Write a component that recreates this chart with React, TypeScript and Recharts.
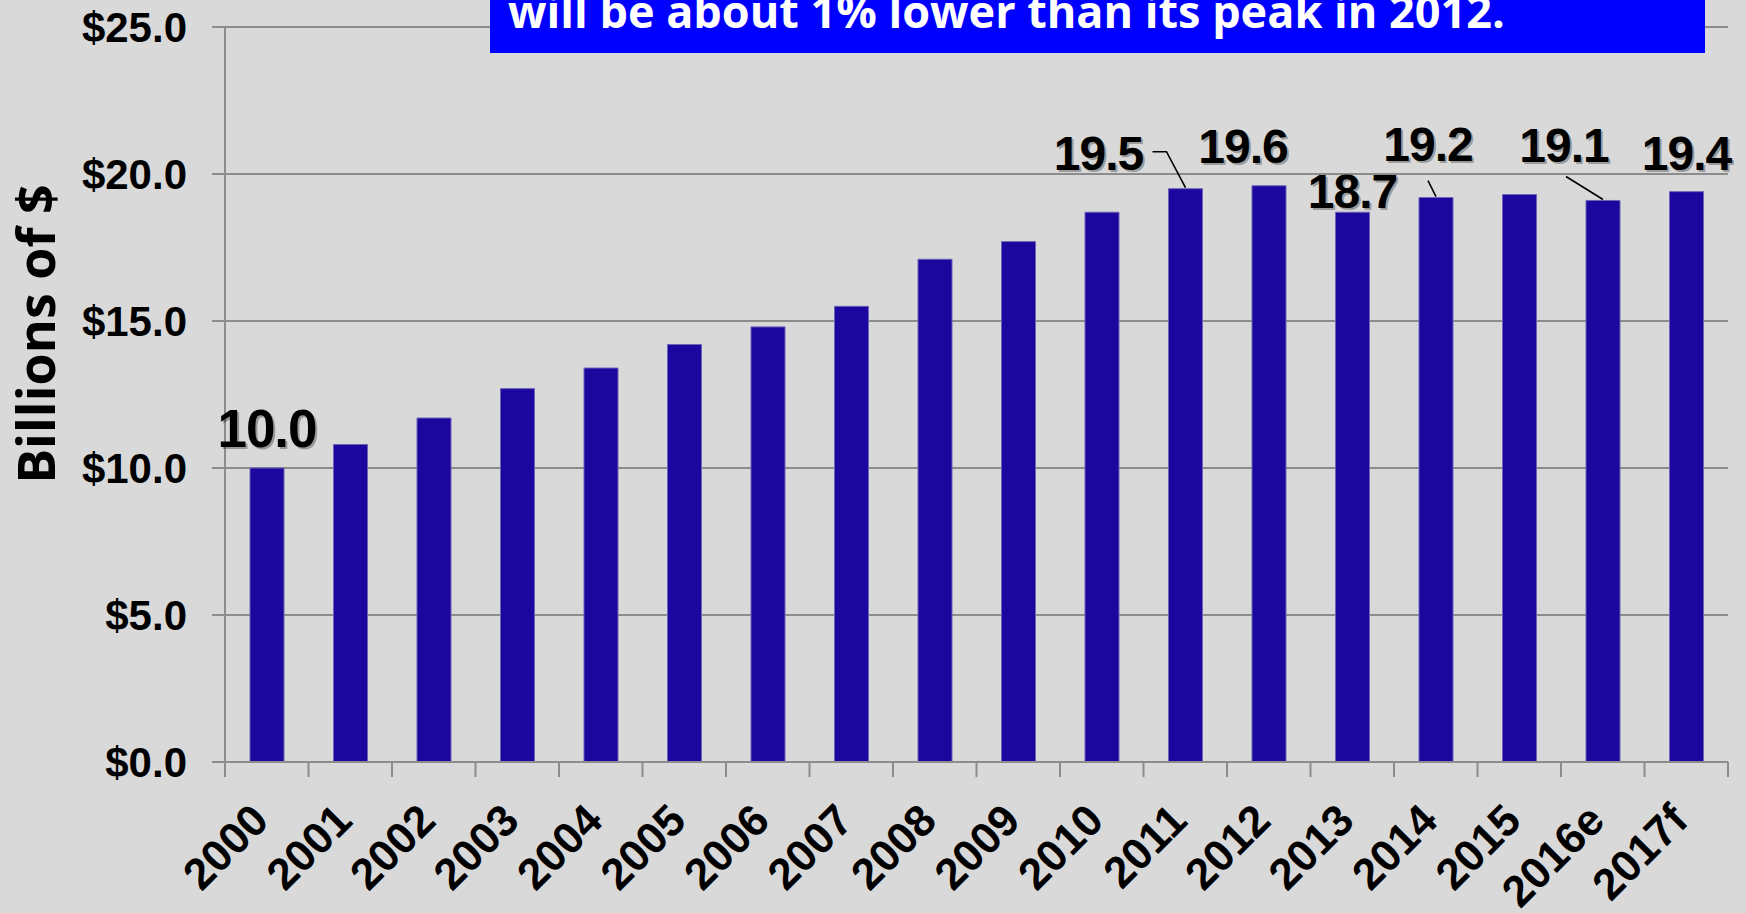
import React from 'react';
import { BarChart, Bar, XAxis, YAxis, CartesianGrid, LabelList } from 'recharts';

const years = ['2000', '2001', '2002', '2003', '2004', '2005', '2006', '2007', '2008', '2009', '2010', '2011', '2012', '2013', '2014', '2015', '2016e', '2017f'];
const values = [10.0, 10.8, 11.7, 12.7, 13.4, 14.2, 14.8, 15.5, 17.1, 17.7, 18.7, 19.5, 19.6, 18.7, 19.2, 19.3, 19.1, 19.4];
const labelledYears = ['2000', '2011', '2012', '2013', '2014', '2016e', '2017f'];
const yTicks = [0, 5, 10, 15, 20, 25];
const titleLine = 'will be about 1% lower than its peak in 2012.';
const yAxisTitle = 'Billions of $';

const data = years.map((year, i) => ({
  year,
  value: values[i],
  label: labelledYears.includes(year) ? values[i].toFixed(1) : '',
}));

// layout / style constants
const W = 1746;
const H = 913;
const M_LEFT = 0;
const Y_AXIS_W = 225;
const M_RIGHT = 18;
const M_TOP = 27;
const X_AXIS_H = 151;
const PLOT_W = W - M_LEFT - Y_AXIS_W - M_RIGHT;
const BAND = PLOT_W / years.length;
const GRID = '#8C8C8C';
const BAR = '#1C079E';
const BG = '#D9D9D9';
const ARIAL = '"Liberation Sans", Arial, sans-serif';
const OPEN = '"Open Sans", "Noto Sans", sans-serif';

const LABEL_LAYOUT: Record<string, { dx: number; dy: number; size: number; leader?: number[][] }> = {
  '2000': { dx: 0, dy: -21, size: 53 },
  '2011': { dx: -87, dy: -19, size: 48, leader: [[-33, -37], [-19, -37], [0, -1]] },
  '2012': { dx: -26, dy: -23, size: 48 },
  '2013': { dx: 0, dy: -4, size: 48 },
  '2014': { dx: -8, dy: -37, size: 48, leader: [[-8, -17], [0, -1]] },
  '2016e': { dx: -39, dy: -38, size: 48, leader: [[-37, -24], [0, -1]] },
  '2017f': { dx: 0, dy: -22, size: 48 },
};

const XTick = (props: any) => {
  const { x, y, payload, index } = props;
  const half = BAND / 2;
  const ax = x + 4;
  const ay = y + 61;
  return (
    <g>
      <line x1={x - half} x2={x - half} y1={y} y2={y + 15} stroke={GRID} strokeWidth={2} />
      {index === years.length - 1 && (
        <line x1={x + half} x2={x + half} y1={y} y2={y + 15} stroke={GRID} strokeWidth={2} />
      )}
      <text
        x={ax}
        y={ay}
        transform={`rotate(-45, ${ax}, ${ay})`}
        textAnchor="end"
        fontFamily={ARIAL}
        fontWeight="bold"
        fontSize={44}
        fill="#000"
      >
        {payload.value}
      </text>
    </g>
  );
};

const DataLabel = (props: any) => {
  const { x, y, width, index, value } = props;
  if (!value) return null;
  const year = years[index];
  const lay = LABEL_LAYOUT[year];
  if (!lay) return null;
  const cx = x + width / 2;
  const tx = cx + lay.dx;
  const ty = y + lay.dy;
  const pts = lay.leader ? lay.leader.map(([px, py]) => `${cx + px},${y + py}`).join(' ') : null;
  return (
    <g>
      {pts && <polyline points={pts} fill="none" stroke="#000" strokeWidth={1.6} />}
      <text x={tx + 2} y={ty + 2} textAnchor="middle" fontFamily={ARIAL} fontWeight="bold" fontSize={lay.size} letterSpacing={-1} fill="rgba(0,0,0,0.3)">
        {value}
      </text>
      <text x={tx} y={ty} textAnchor="middle" fontFamily={ARIAL} fontWeight="bold" fontSize={lay.size} letterSpacing={-1} fill="#000">
        {value}
      </text>
    </g>
  );
};

const YTitle = () => (
  <text
    x={55}
    y={334}
    transform="rotate(-90, 55, 334)"
    textAnchor="middle"
    fontFamily={OPEN}
    fontWeight="bold"
    fontSize={52}
    fill="#000"
  >
    {yAxisTitle}
  </text>
);

export default function App() {
  return (
    <div style={{ position: 'fixed', left: 0, top: 0, width: W, height: H, background: BG, overflow: 'hidden' }}>
      <BarChart
        width={W}
        height={H}
        data={data}
        margin={{ top: M_TOP, right: M_RIGHT, bottom: 0, left: M_LEFT }}
        barCategoryGap="0%"
      >
        <CartesianGrid horizontal vertical={false} stroke={GRID} strokeWidth={2} />
        <XAxis
          dataKey="year"
          height={X_AXIS_H}
          interval={0}
          tickSize={0}
          tickMargin={0}
          tickLine={false}
          axisLine={{ stroke: GRID, strokeWidth: 2 }}
          tick={<XTick />}
        />
        <YAxis
          width={Y_AXIS_W}
          domain={[0, 25]}
          ticks={yTicks}
          interval={0}
          tickSize={13}
          tickMargin={25}
          tickLine={{ stroke: GRID, strokeWidth: 2 }}
          axisLine={{ stroke: GRID, strokeWidth: 2 }}
          tickFormatter={(v: number) => `$${v.toFixed(1)}`}
          tick={{ fontFamily: ARIAL, fontWeight: 'bold', fontSize: 42, fill: '#000' }}
          label={{ content: () => <YTitle /> }}
        />
        <Bar dataKey="value" fill={BAR} stroke="#6D63B8" strokeWidth={1} barSize={34} isAnimationActive={false}>
          <LabelList dataKey="label" content={<DataLabel />} />
        </Bar>
      </BarChart>
      <div style={{ position: 'absolute', left: 490, top: 0, width: 1215, height: 53, background: '#0000FF' }}>
        <svg width={1215} height={53} style={{ display: 'block' }}>
          <text x={18} y={28} fontFamily={OPEN} fontWeight="bold" fontSize={45} fill="#FFFFFF">
            {titleLine}
          </text>
        </svg>
      </div>
    </div>
  );
}
